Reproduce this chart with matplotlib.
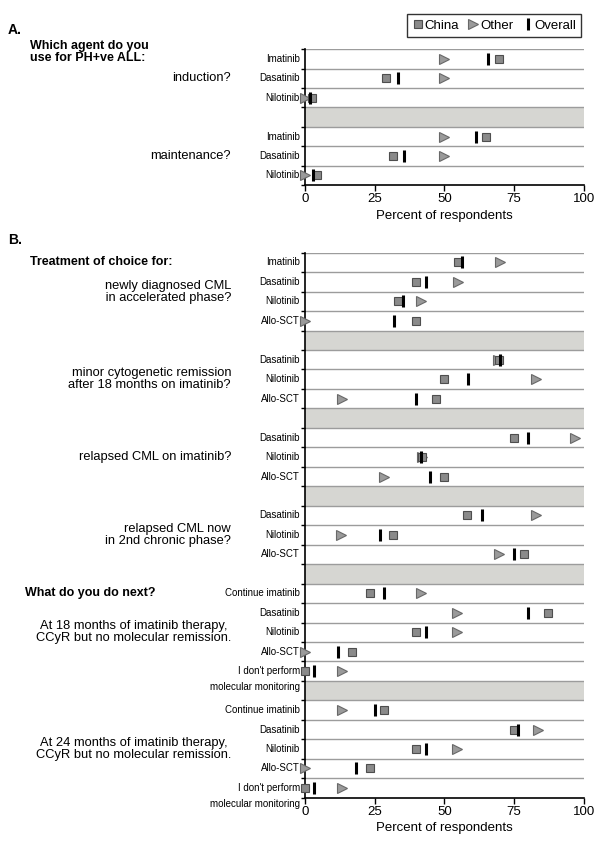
import matplotlib
matplotlib.use("Agg")
import matplotlib.pyplot as plt
from matplotlib.lines import Line2D
from matplotlib.transforms import blended_transform_factory

plt.rcParams['font.family'] = ['Liberation Sans', 'DejaVu Sans']

# ---- Panel A data: agent for PH+ve ALL ----
a_questions = ["induction?", "maintenance?"]
a_agents = [["Imatinib", "Dasatinib", "Nilotinib"],
            ["Imatinib", "Dasatinib", "Nilotinib"]]
a_china = [[69.5, 29, 2.5], [65, 31.5, 4.5]]
a_other = [[50, 50, 0], [50, 50, 0]]
a_overall = [[65.5, 33.5, 1.7], [61.5, 35.5, 3]]

# ---- Panel B data: CML treatment choices ----
b_questions = ["newly diagnosed CML\n in accelerated phase?",
               "minor cytogenetic remission\nafter 18 months on imatinib?",
               "relapsed CML on imatinib?",
               "relapsed CML now\nin 2nd chronic phase?",
               "At 18 months of imatinib therapy,\nCCyR but no molecular remission.",
               "At 24 months of imatinib therapy,\nCCyR but no molecular remission."]
b_agents = [["Imatinib", "Dasatinib", "Nilotinib", "Allo-SCT"],
            ["Dasatinib", "Nilotinib", "Allo-SCT"],
            ["Dasatinib", "Nilotinib", "Allo-SCT"],
            ["Dasatinib", "Nilotinib", "Allo-SCT"],
            ["Continue imatinib", "Dasatinib", "Nilotinib", "Allo-SCT",
             "I don't perform\nmolecular monitoring"],
            ["Continue imatinib", "Dasatinib", "Nilotinib", "Allo-SCT",
             "I don't perform\nmolecular monitoring"]]
b_china = [[55, 40, 33.5, 40],
           [69.5, 50, 47],
           [75, 42, 50],
           [58, 31.5, 78.5],
           [23.5, 87, 40, 17, 0],
           [28.5, 75, 40, 23.5, 0]]
b_other = [[70, 55, 41.5, 0],
           [69.2, 83, 13.5],
           [97, 42, 28.5],
           [83, 13, 69.5],
           [41.5, 54.5, 54.5, 0, 13.5],
           [13.5, 83.5, 54.5, 0, 13.5]]
b_overall = [[56.5, 43.5, 35.2, 32],
             [70, 58.5, 40],
             [80, 41.5, 45],
             [63.5, 26.8, 75],
             [28.5, 80, 43.5, 12, 3.4],
             [25, 76.5, 43.5, 18.5, 3.4]]

fig = plt.figure(figsize=(6, 8.41), dpi=100)
ax_a = fig.add_axes([0.508, 0.780, 0.465, 0.1614])
ax_b = fig.add_axes([0.508, 0.0515, 0.465, 0.648])


def draw_panel(ax, questions, agents, china, other, overall):
    n_rows = sum(len(a) for a in agents) + len(agents) - 1
    tr = blended_transform_factory(fig.transFigure, ax.transData)
    row = 0
    for k, names in enumerate(agents):
        ys = [row + i + 0.5 for i in range(len(names))]
        ax.plot(other[k], ys, ls='none', marker='>', ms=6.5, mfc='#9a9a9a',
                mec='#686868', mew=0.8, clip_on=False, zorder=3)
        ax.plot(china[k], ys, ls='none', marker='s', ms=5.5, mfc='#8a8a8a',
                mec='#4e4e4e', mew=0.8, clip_on=False, zorder=4)
        ax.plot(overall[k], ys, ls='none', marker='|', ms=8, mew=2.2,
                color='black', clip_on=False, zorder=5)
        for name, yy in zip(names, ys):
            for j, part in enumerate(name.split('\n')):
                ax.text(-1.8, yy + 0.82 * j, part, ha='right', va='center',
                        fontsize=7, clip_on=False)
        q = questions[k]
        ax.text(0.385, row + len(names) / 2, q, transform=tr, ha='right',
                va='center', fontsize=9.3, linespacing=1.0,
                multialignment='center' if q.startswith('At') else 'right')
        row += len(names)
        if k < len(agents) - 1:
            ax.axhspan(row, row + 1, color='#d6d6d2', lw=0, zorder=0)
            row += 1

    for b in range(n_rows):
        ax.axhline(b, color='#9c9c9c', lw=1.0, zorder=1)
    ax.set_xlim(0, 100)
    ax.set_ylim(n_rows, 0)
    ax.set_xticks([0, 25, 50, 75, 100])
    ax.set_yticks(range(n_rows + 1))
    ax.set_yticklabels([])
    ax.tick_params(axis='y', length=3, width=1)
    ax.tick_params(axis='x', length=4, width=1, labelsize=9.5, pad=2)
    for s in ['top', 'right']:
        ax.spines[s].set_visible(False)
    for s in ['left', 'bottom']:
        ax.spines[s].set_linewidth(1.2)
    ax.set_xlabel("Percent of respondents", fontsize=9.5, labelpad=3)
    return tr


draw_panel(ax_a, a_questions, a_agents, a_china, a_other, a_overall)
tr_b = draw_panel(ax_b, b_questions, b_agents, b_china, b_other, b_overall)

# headings
fig.text(0.013, 1 - 30 / 841, "A.", fontsize=10, fontweight='bold', va='center')
fig.text(0.05, 1 - 52 / 841, "Which agent do you\nuse for PH+ve ALL:",
         fontsize=9, fontweight='bold', va='center', linespacing=0.95)
fig.text(0.013, 1 - 240 / 841, "B.", fontsize=10, fontweight='bold', va='center')
ax_b.text(0.05, 0.5, "Treatment of choice for:", transform=tr_b,
          fontsize=9, fontweight='bold', va='center')
ax_b.text(0.042, 17.5, "What do you do next?", transform=tr_b,
          fontsize=9, fontweight='bold', va='center')

# legend
handles = [
    Line2D([], [], ls='none', marker='s', ms=5.5, mfc='#8a8a8a', mec='#4e4e4e', mew=0.8),
    Line2D([], [], ls='none', marker='>', ms=6.5, mfc='#9a9a9a', mec='#686868', mew=0.8),
    Line2D([], [], ls='none', marker='|', ms=8, mew=2.2, color='black'),
]
leg = fig.legend(handles, ["China", "Other", "Overall"], loc='upper right',
                 bbox_to_anchor=(0.98, 0.991), ncol=3, frameon=True,
                 fancybox=False, edgecolor='black', handlelength=0.8,
                 handletextpad=0.1, columnspacing=0.7, borderpad=0.4,
                 fontsize=9.5)
leg.get_frame().set_linewidth(1.0)

fig.savefig("out.png", dpi=100)
